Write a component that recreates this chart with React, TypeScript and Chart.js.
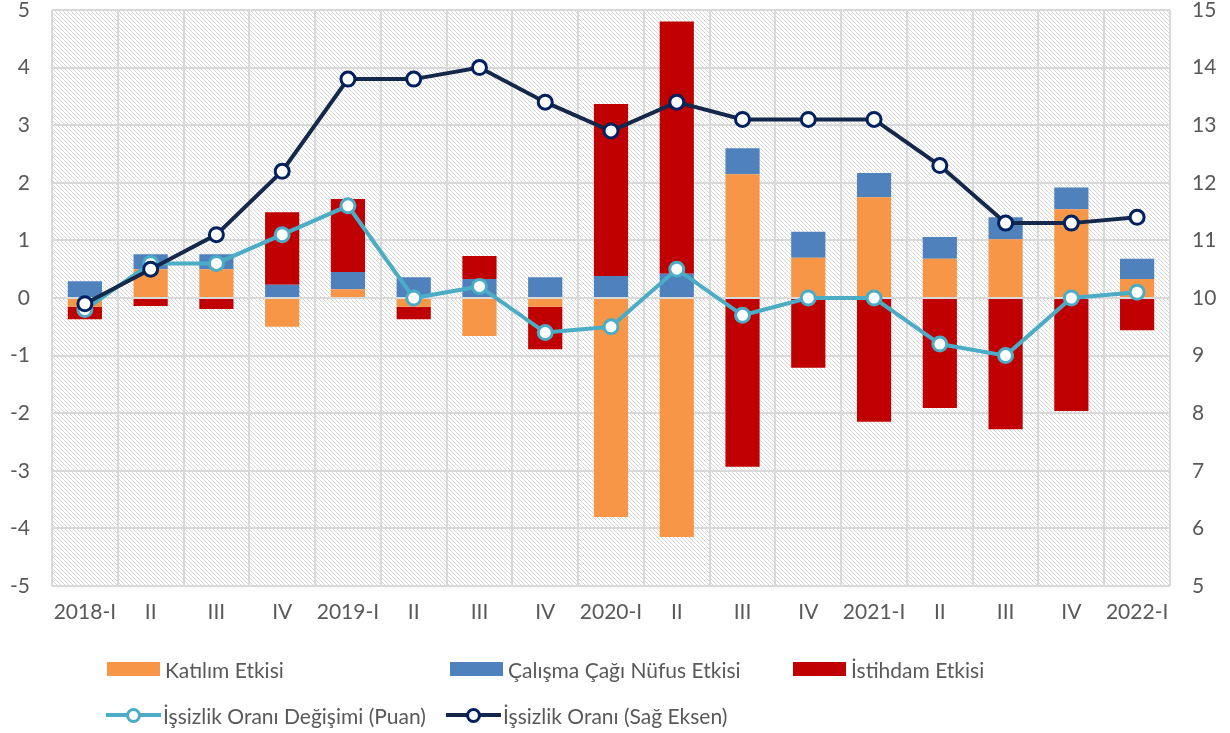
import React, { useEffect, useRef } from "react";
import { Chart, registerables } from "chart.js";

Chart.register(...registerables);

const categories = ["2018-I", "II", "III", "IV", "2019-I", "II", "III", "IV", "2020-I", "II", "III", "IV", "2021-I", "II", "III", "IV", "2022-I"];
const katilim = [-0.15, 0.5, 0.5, -0.5, 0.15, -0.15, -0.66, -0.15, -3.8, -4.15, 2.15, 0.7, 1.75, 0.68, 1.02, 1.54, 0.33];
const calismaCagi = [0.29, 0.26, 0.26, 0.23, 0.3, 0.36, 0.33, 0.36, 0.38, 0.42, 0.45, 0.45, 0.42, 0.38, 0.38, 0.38, 0.35];
const istihdam = [-0.22, -0.14, -0.19, 1.26, 1.27, -0.22, 0.4, -0.74, 2.99, 4.38, -2.93, -1.21, -2.15, -1.91, -2.28, -1.96, -0.56];
const oranDegisimi = [-0.2, 0.6, 0.6, 1.1, 1.6, 0.0, 0.2, -0.6, -0.5, 0.5, -0.3, 0.0, 0.0, -0.8, -1.0, 0.0, 0.1];
const issizlikOrani = [9.9, 10.5, 11.1, 12.2, 13.8, 13.8, 14.0, 13.4, 12.9, 13.4, 13.1, 13.1, 13.1, 12.3, 11.3, 11.3, 11.4];
const leftTicks = [-5, 5];
const rightTicks = [5, 15];

const FONT = "Lato, 'Open Sans', sans-serif";
const FS = 21;
const TXT = "#595959";
const GRID = "#D9D9D9";
const C_ORANGE = "#F79646";
const C_BLUE = "#4F81BD";
const C_RED = "#C00000";
const C_CYAN = "#4BACC6";
const C_NAVY = "#14284B";
const C_NAVY_MK = "#002060";

function makePattern(ctx: CanvasRenderingContext2D) {
  const c = document.createElement("canvas");
  c.width = 4;
  c.height = 4;
  const p = c.getContext("2d")!;
  p.fillStyle = "#FFFFFF";
  p.fillRect(0, 0, 4, 4);
  p.strokeStyle = "#D6D6D6";
  p.lineWidth = 1;
  p.beginPath();
  p.moveTo(0, 0);
  p.lineTo(4, 4);
  p.moveTo(-1, 3);
  p.lineTo(1, 5);
  p.moveTo(3, -1);
  p.lineTo(5, 1);
  p.stroke();
  return ctx.createPattern(c, "repeat");
}

const hatchPlugin = {
  id: "hatch",
  beforeDraw(chart: any) {
    const { ctx, chartArea } = chart;
    if (!chartArea) return;
    ctx.save();
    ctx.fillStyle = "#FFFFFF";
    ctx.fillRect(0, 0, chart.width, chart.height);
    const pat = makePattern(ctx);
    if (pat) {
      ctx.fillStyle = pat;
      ctx.fillRect(chartArea.left, chartArea.top, chartArea.right - chartArea.left, chartArea.bottom - chartArea.top);
    }
    ctx.restore();
  },
};

function LegendItem({ x, y, kind, color, label }: { x: number; y: number; kind: "box" | "line"; color: string; label: string }) {
  return (
    <div style={{ position: "absolute", left: x, top: y - 13, height: 26, display: "flex", alignItems: "center", whiteSpace: "nowrap" }}>
      {kind === "box" ? (
        <div style={{ width: 53, height: 14, background: color, marginRight: 5 }} />
      ) : (
        <div style={{ position: "relative", width: 55, height: 26, marginRight: 2 }}>
          <div style={{ position: "absolute", left: 0, right: 0, top: 11, height: 4, background: color }} />
          <div style={{ position: "absolute", left: 20, top: 6, width: 9, height: 9, borderRadius: "50%", background: "#fff", border: `3px solid ${color === C_NAVY ? C_NAVY_MK : color}` }} />
        </div>
      )}
      <span style={{ fontFamily: FONT, fontSize: FS, color: TXT }}>{label}</span>
    </div>
  );
}

export default function App() {
  const ref = useRef<HTMLCanvasElement | null>(null);
  useEffect(() => {
    if (!ref.current) return;
    const chart = new Chart(ref.current, {
      type: "bar",
      data: {
        labels: categories,
        datasets: [
          { type: "bar", label: "Katılım Etkisi", data: katilim, backgroundColor: C_ORANGE, stack: "bars", yAxisID: "y", order: 3, barPercentage: 0.52, categoryPercentage: 1 },
          { type: "bar", label: "Çalışma Çağı Nüfus Etkisi", data: calismaCagi, backgroundColor: C_BLUE, stack: "bars", yAxisID: "y", order: 3, barPercentage: 0.52, categoryPercentage: 1 },
          { type: "bar", label: "İstihdam Etkisi", data: istihdam, backgroundColor: C_RED, stack: "bars", yAxisID: "y", order: 3, barPercentage: 0.52, categoryPercentage: 1 },
          { type: "line", label: "İşsizlik Oranı Değişimi (Puan)", data: oranDegisimi, borderColor: C_CYAN, borderWidth: 4, pointRadius: 7, pointBorderWidth: 3, pointBackgroundColor: "#FFFFFF", pointBorderColor: C_CYAN, stack: "chg", yAxisID: "y", order: 1, tension: 0 } as any,
          { type: "line", label: "İşsizlik Oranı (Sağ Eksen)", data: issizlikOrani, borderColor: C_NAVY, borderWidth: 4, pointRadius: 7, pointBorderWidth: 3, pointBackgroundColor: "#FFFFFF", pointBorderColor: C_NAVY_MK, yAxisID: "y1", order: 0, tension: 0 } as any,
        ],
      },
      options: {
        responsive: false,
        animation: false,
        layout: { padding: { top: 10, bottom: 97, left: 0, right: 0 } },
        plugins: { legend: { display: false }, tooltip: { enabled: false } },
        scales: {
          x: {
            stacked: true,
            grid: { color: GRID, lineWidth: 2, offset: true, drawTicks: false },
            border: { display: false },
            ticks: { color: TXT, font: { family: FONT, size: FS }, padding: 14, maxRotation: 0, autoSkip: false },
            afterFit: (s: any) => { s.height = 50; s.paddingLeft = 0; s.paddingRight = 0; },
          },
          y: {
            stacked: true,
            position: "left",
            min: leftTicks[0],
            max: leftTicks[1],
            grid: { color: GRID, lineWidth: 2, drawTicks: false },
            border: { display: false },
            ticks: { stepSize: 1, color: TXT, font: { family: FONT, size: FS }, padding: 22 },
            afterFit: (s: any) => { s.width = 52; s.paddingTop = 0; s.paddingBottom = 0; },
          },
          y1: {
            position: "right",
            min: rightTicks[0],
            max: rightTicks[1],
            grid: { display: false, drawTicks: false },
            border: { display: false },
            ticks: { stepSize: 1, color: TXT, font: { family: FONT, size: FS }, padding: 22 },
            afterFit: (s: any) => { s.width = 60; s.paddingTop = 0; s.paddingBottom = 0; },
          },
        },
      } as any,
      plugins: [hatchPlugin],
    });
    return () => chart.destroy();
  }, []);

  return (
    <div style={{ position: "fixed", left: 0, top: 0, width: 1230, height: 733, background: "#fff" }}>
      <canvas ref={ref} width={1230} height={733} style={{ position: "absolute", left: 0, top: 0 }} />
      <LegendItem x={107} y={669} kind="box" color={C_ORANGE} label="Katılım Etkisi" />
      <LegendItem x={450} y={669} kind="box" color={C_BLUE} label="Çalışma Çağı Nüfus Etkisi" />
      <LegendItem x={793} y={669} kind="box" color={C_RED} label="İstihdam Etkisi" />
      <LegendItem x={106} y={715} kind="line" color={C_CYAN} label="İşsizlik Oranı Değişimi (Puan)" />
      <LegendItem x={446} y={715} kind="line" color={C_NAVY} label="İşsizlik Oranı (Sağ Eksen)" />
    </div>
  );
}
